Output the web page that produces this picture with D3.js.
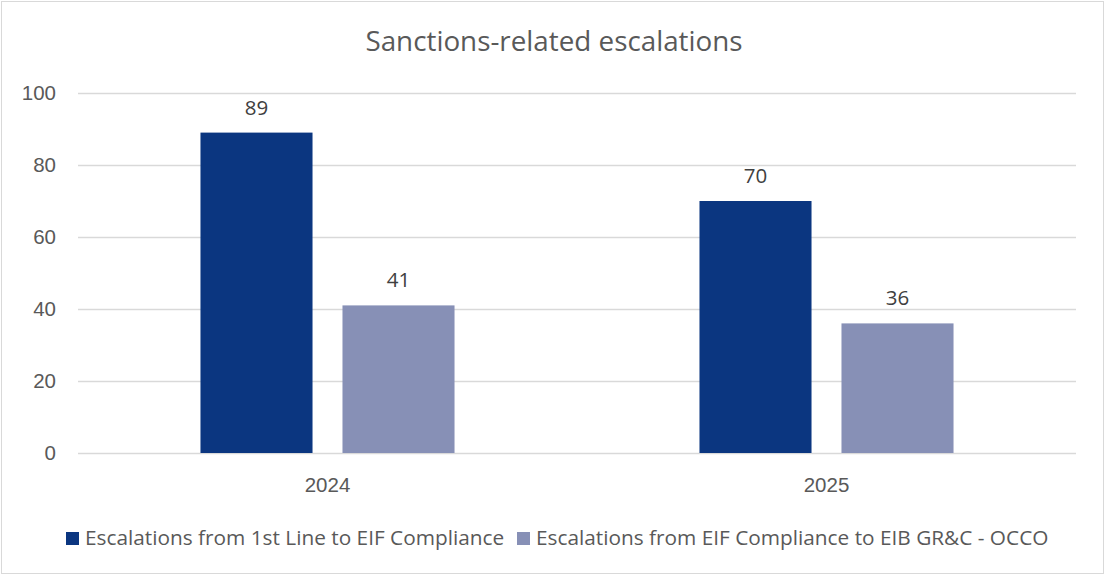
<!DOCTYPE html>
<html>
<head>
<meta charset="utf-8">
<script src="https://cdn.jsdelivr.net/npm/d3@7"></script>
<style>
  html, body { margin: 0; padding: 0; background: #fff; }
  svg { display: block; font-family: "Open Sans", "Noto Sans", sans-serif; }
</style>
</head>
<body>
<svg id="chart" width="1104" height="576"></svg>
<script>
// Chart data
const categories = ["2024", "2025"];
const seriesNames = [
  "Escalations from 1st Line to EIF Compliance",
  "Escalations from EIF Compliance to EIB GR&C - OCCO"
];
const firstLine = [89, 70];
const eifToEib = [41, 36];
const yTicks = [0, 20, 40, 60, 80, 100];
const chartTitle = "Sanctions-related escalations";

const colors = ["#0b3680", "#8790b6"];
const textColor = "#595959";

const svg = d3.select("#chart");
const W = 1104, H = 576;
const margin = { top: 93, right: 28, bottom: 123, left: 78 };

// Outer frame
svg.append("rect")
  .attr("x", 1.5).attr("y", 1.5)
  .attr("width", W - 2).attr("height", H - 4)
  .attr("fill", "#fff").attr("stroke", "#d9d9d9");

const x0 = d3.scaleBand()
  .domain(categories)
  .range([margin.left, W - margin.right]);

const x1 = d3.scaleBand()
  .domain([0, 1])
  .range([0, x0.bandwidth()])
  .paddingInner(0.211)
  .paddingOuter(0.8625);

const y = d3.scaleLinear()
  .domain([0, 100])
  .range([H - margin.bottom, margin.top]);

// Gridlines
svg.append("g")
  .selectAll("line")
  .data(yTicks)
  .join("line")
  .attr("x1", margin.left)
  .attr("x2", W - margin.right)
  .attr("y1", d => Math.round(y(d)) + 0.5)
  .attr("y2", d => Math.round(y(d)) + 0.5)
  .attr("stroke", "#d9d9d9")
  .attr("stroke-width", 1.3);

// Y axis labels
const yAxis = d3.axisLeft(y).tickValues(yTicks).tickSize(0).tickPadding(0);
const yg = svg.append("g")
  .attr("transform", `translate(${margin.left - 22},0)`)
  .call(yAxis);
yg.select(".domain").remove();
yg.selectAll("text")
  .attr("fill", textColor)
  .style("font-size", "20.5px");

// X axis labels
const xAxis = d3.axisBottom(x0).tickSize(0).tickPadding(0);
const xg = svg.append("g")
  .attr("transform", `translate(0,${y(0) + 24})`)
  .call(xAxis);
xg.select(".domain").remove();
xg.selectAll("text")
  .attr("fill", textColor)
  .style("font-size", "20.5px");

// Bars
const series = [firstLine, eifToEib];
const rows = categories.map((c, i) => ({
  cat: c,
  vals: series.map((s, j) => ({ j, v: s[i] }))
}));

const groups = svg.append("g")
  .selectAll("g")
  .data(rows)
  .join("g")
  .attr("transform", d => `translate(${x0(d.cat)},0)`);

groups.selectAll("rect")
  .data(d => d.vals)
  .join("rect")
  .attr("x", d => x1(d.j))
  .attr("width", x1.bandwidth())
  .attr("y", d => y(d.v))
  .attr("height", d => y(0) - y(d.v))
  .attr("fill", d => colors[d.j]);

groups.selectAll("text")
  .data(d => d.vals)
  .join("text")
  .attr("x", d => x1(d.j) + x1.bandwidth() / 2)
  .attr("y", d => y(d.v) - 18)
  .attr("text-anchor", "middle")
  .attr("fill", "#404040")
  .style("font-size", "20.5px")
  .text(d => d.v);

// Title
svg.append("text")
  .attr("x", 554)
  .attr("y", 51)
  .attr("text-anchor", "middle")
  .attr("fill", textColor)
  .style("font-size", "27.8px")
  .text(chartTitle);

// Legend
const legend = svg.append("g").attr("transform", "translate(0,545)");
const legendX = [66, 517];
seriesNames.forEach((name, i) => {
  legend.append("rect")
    .attr("x", legendX[i]).attr("y", -13)
    .attr("width", 13).attr("height", 13)
    .attr("fill", colors[i]);
  legend.append("text")
    .attr("x", legendX[i] + 19)
    .attr("y", 0)
    .attr("fill", textColor)
    .style("font-size", "20.8px")
    .text(name);
});
</script>
</body>
</html>
